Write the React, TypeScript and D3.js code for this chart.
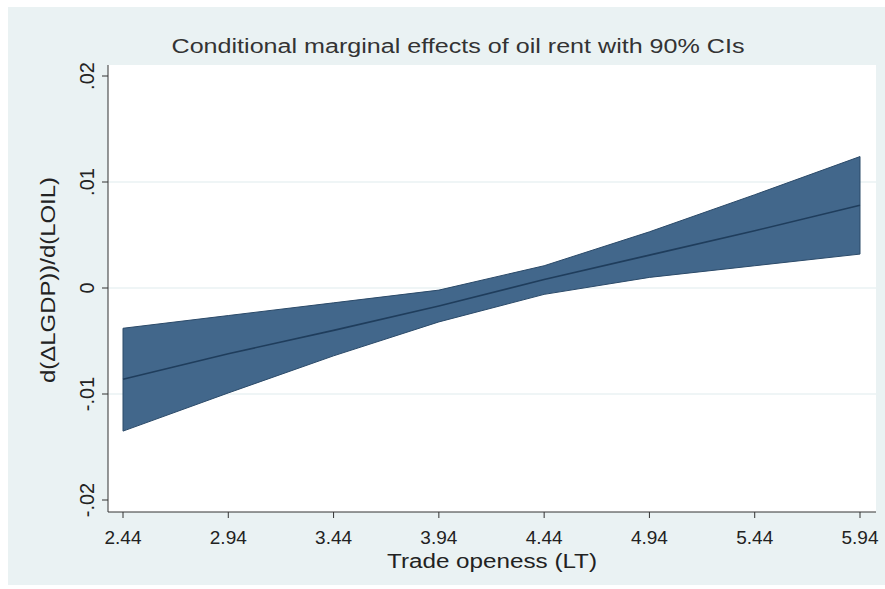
import React from "react";
import * as d3 from "d3";

const xValues = [2.44, 2.94, 3.44, 3.94, 4.44, 4.94, 5.44, 5.94];
const effect = [-0.0086, -0.0062, -0.0040, -0.0017, 0.0008, 0.0031, 0.0054, 0.0078];
const upper = [-0.0038, -0.0026, -0.0014, -0.0002, 0.0021, 0.0053, 0.0088, 0.0124];
const lower = [-0.0135, -0.0099, -0.0064, -0.0032, -0.0006, 0.0010, 0.0021, 0.0032];
const xTicks = [2.44, 2.94, 3.44, 3.94, 4.44, 4.94, 5.44, 5.94];
const xTickLabels = ["2.44", "2.94", "3.44", "3.94", "4.44", "4.94", "5.44", "5.94"];
const yTicks = [-0.02, -0.01, 0, 0.01, 0.02];
const yTickLabels = ["-.02", "-.01", "0", ".01", ".02"];
const gridTicks = [-0.01, 0, 0.01];

const titleText = "Conditional marginal effects of oil rent with 90% CIs";
const xTitle = "Trade openess (LT)";
const yTitle = "d(\u0394LGDP))/d(LOIL)";

export default function App() {
  const W = 885, H = 589;
  const plotL = 108, plotR = 876, plotT = 65, plotB = 512;
  const x = d3.scaleLinear().domain([2.44, 5.94]).range([123, 860]);
  const y = d3.scaleLinear().domain([-0.02, 0.02]).range([500, 76]);

  const data = xValues.map((v, i) => ({ x: v, m: effect[i], lo: lower[i], hi: upper[i] }));
  const area = d3.area<any>().x(d => x(d.x)).y0(d => y(d.lo)).y1(d => y(d.hi));
  const line = d3.line<any>().x(d => x(d.x)).y(d => y(d.m));
  const font = "'Liberation Sans', Arial, sans-serif";

  return (
    <svg width={W} height={H} style={{ position: "absolute", left: 0, top: 0, display: "block" }} fontFamily={font}>
      <rect x={0} y={0} width={W} height={H} fill="#ffffff" />
      <rect x={8} y={7} width={W - 8} height={H - 11} fill="#eaf2f3" />
      <rect x={plotL} y={plotT} width={plotR - plotL} height={plotB - plotT} fill="#ffffff" />
      {gridTicks.map((t, i) => (
        <line key={i} x1={plotL} x2={plotR} y1={y(t)} y2={y(t)} stroke="#eaf2f3" strokeWidth={1.5} />
      ))}
      <path d={area(data) || ""} fill="#42678b" stroke="#2b4a69" strokeWidth={1} />
      <path d={line(data) || ""} fill="none" stroke="#1f3d5c" strokeWidth={1.6} />
      <line x1={plotL} x2={plotL} y1={plotT} y2={plotB} stroke="#333" strokeWidth={1} />
      <line x1={plotL} x2={plotR} y1={plotB} y2={plotB} stroke="#333" strokeWidth={1} />
      {yTicks.map((t, i) => (
        <g key={i}>
          <line x1={plotL - 6} x2={plotL} y1={y(t)} y2={y(t)} stroke="#333" strokeWidth={1} />
          <text transform={`translate(${94},${y(t)}) rotate(-90)`} textAnchor="middle" fontSize={20} fill="#222">
            {yTickLabels[i]}
          </text>
        </g>
      ))}
      {xTicks.map((t, i) => (
        <g key={i}>
          <line x1={x(t)} x2={x(t)} y1={plotB} y2={plotB + 6} stroke="#333" strokeWidth={1} />
          <text x={x(t)} y={544} textAnchor="middle" fontSize={19} fill="#222">
            {xTickLabels[i]}
          </text>
        </g>
      ))}
      <text x={(plotL + plotR) / 2} y={568} textAnchor="middle" fontSize={20} fill="#222"
        textLength={210} lengthAdjust="spacingAndGlyphs">{xTitle}</text>
      <text transform={`translate(${55},${280}) rotate(-90)`} textAnchor="middle" fontSize={21} fill="#222"
        textLength={206} lengthAdjust="spacingAndGlyphs">
        {yTitle}
      </text>
      <text x={458} y={53} textAnchor="middle" fontSize={20} fill="#333"
        textLength={573} lengthAdjust="spacingAndGlyphs">{titleText}</text>
    </svg>
  );
}
